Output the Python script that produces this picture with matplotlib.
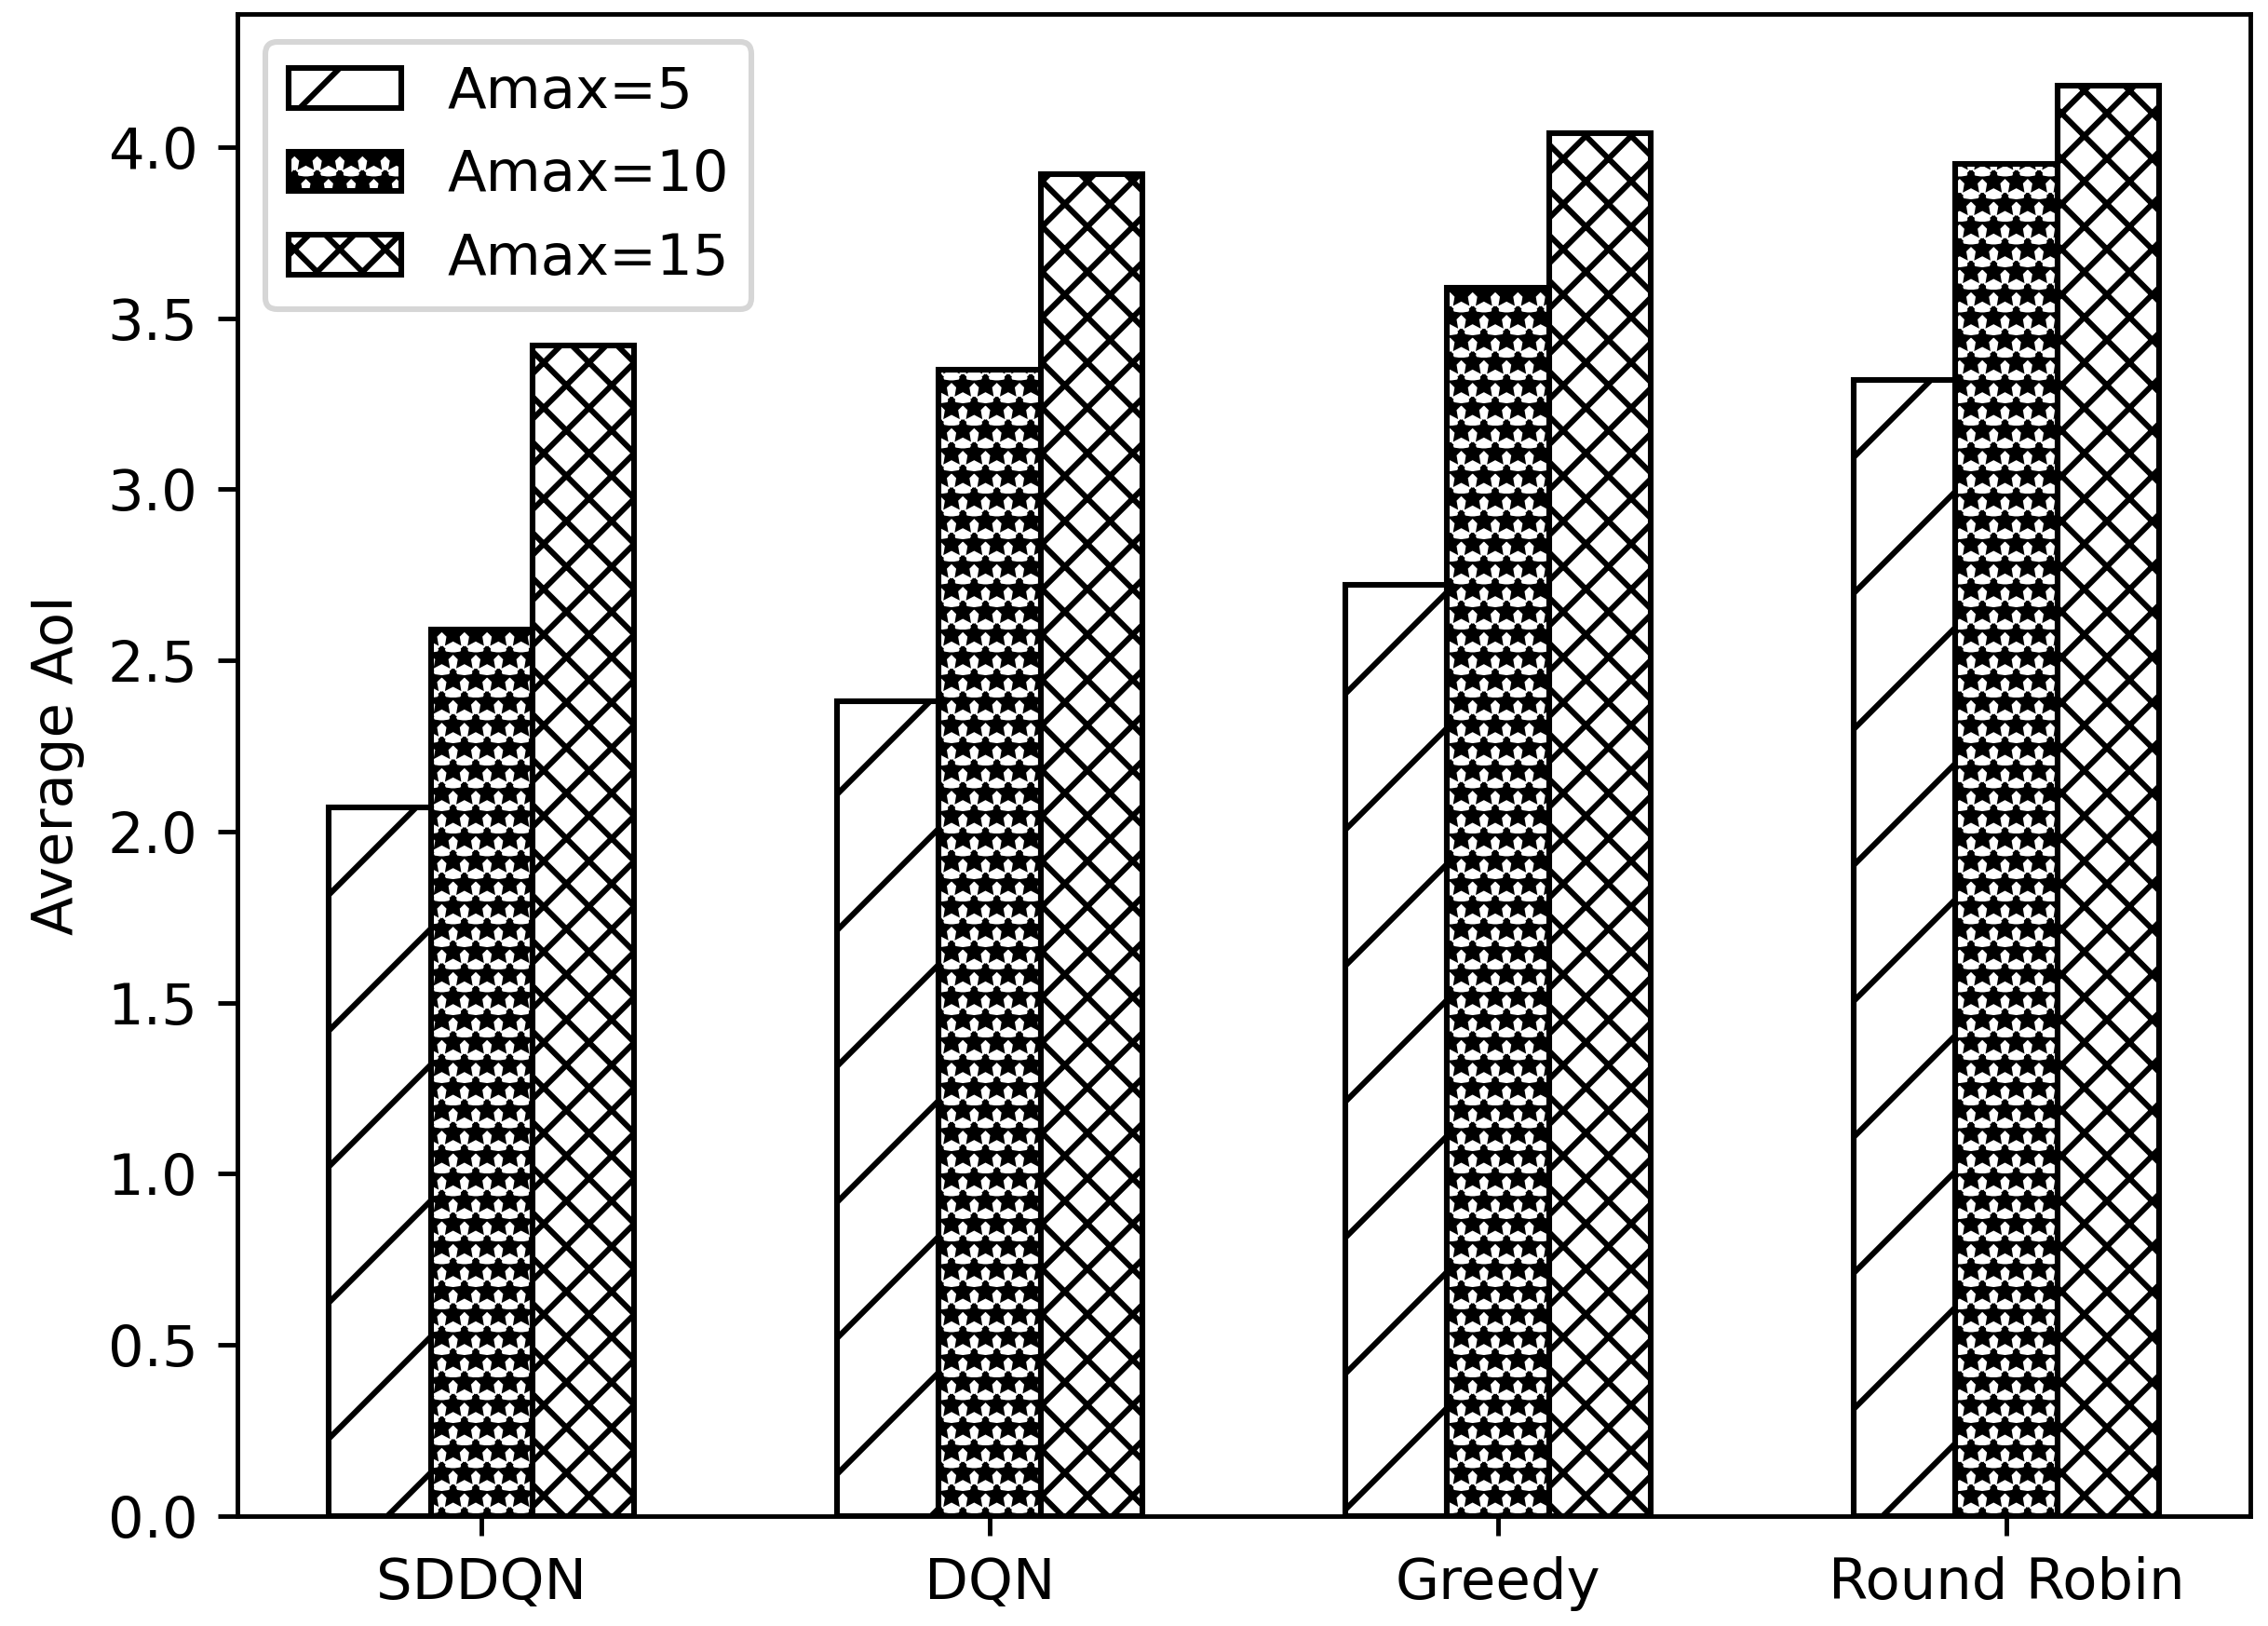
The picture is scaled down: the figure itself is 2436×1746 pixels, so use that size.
import numpy as np
import matplotlib
matplotlib.use('Agg')
import matplotlib.pyplot as plt

methods = ['SDDQN', 'DQN', 'Greedy', 'Round Robin']
labels = ['Amax=5', 'Amax=10', 'Amax=15']
amax5 = [2.07, 2.38, 2.72, 3.32]
amax10 = [2.59, 3.35, 3.59, 3.95]
amax15 = [3.42, 3.92, 4.04, 4.18]

DPI = 438
fig = plt.figure(figsize=(2436 / DPI, 1746 / DPI), dpi=DPI)
ax = fig.add_axes([0.1047, 0.0676, 0.8875, 0.9238])

x = np.arange(len(methods))
w = 0.2
ax.bar(x - w, amax5, w, color='white', edgecolor='black', hatch='/', label=labels[0])
ax.bar(x, amax10, w, color='white', edgecolor='black', hatch='***', label=labels[1])
ax.bar(x + w, amax15, w, color='white', edgecolor='black', hatch='xxx', label=labels[2])

ax.set_xticks(x, methods)
ax.set_ylabel('Average AoI')
ax.legend(loc='upper left')

fig.savefig('out.png', dpi=DPI)
